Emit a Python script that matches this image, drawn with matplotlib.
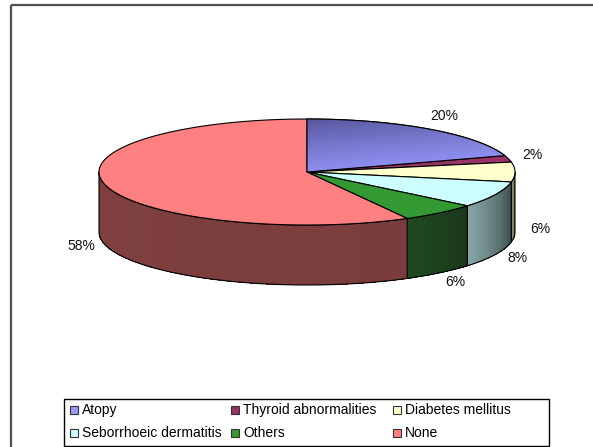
import numpy as np
import matplotlib.pyplot as plt
from matplotlib.patches import Polygon, Rectangle
from matplotlib.colors import to_rgb

# data (percent of patients)
labels = ['Atopy', 'Thyroid abnormalities', 'Diabetes mellitus',
          'Seborrhoeic dermatitis', 'Others', 'None']
shares = [20, 2, 6, 8, 6, 58]
pct_text = ['20%', '2%', '6%', '8%', '6%', '58%']

top_colors = ['#9999FF', '#993366', '#FFFFCC', '#CCFFFF', '#339933', '#FF8080']
side_light = ['#5c5c99', '#5c1f3d', '#9a9a7a', '#8aa8a8', '#1f4a1f', '#804040']
side_dark = ['#5c5c99', '#5c1f3d', '#5a5a44', '#3a4e4e', '#1a381a', '#7a3c3c']

plt.rcParams['font.family'] = ['Liberation Sans', 'DejaVu Sans']

fig = plt.figure(figsize=(5.93, 4.47), dpi=100)
ax = fig.add_axes([0, 0, 1, 1])
ax.set_xlim(0, 593)
ax.set_ylim(447, 0)
ax.axis('off')

# chart area border
ax.add_patch(Rectangle((11, 5), 620, 480, fill=False, edgecolor='#505050', lw=1.6))

cx, cy, rx, ry, depth = 307, 172, 208, 53, 60


def rim(t):
    t = np.radians(t)
    return cx + rx * np.cos(t), cy - ry * np.sin(t)


def wall(lo, hi, n=100):
    ts = np.linspace(lo, hi, n)
    xs, ys = rim(ts)
    return np.column_stack([np.r_[xs, xs[::-1]], np.r_[ys, ys[::-1] + depth]])


bounds = 90 - np.concatenate([[0], np.cumsum(shares)]) * 3.6

# side walls (front half only)
for i in range(len(shares)):
    t0, t1 = bounds[i], bounds[i + 1]
    hi, lo = min(t0, 0), max(t1, -180)
    if hi <= lo:
        continue
    c0, c1 = np.array(to_rgb(side_light[i])), np.array(to_rgb(side_dark[i]))
    ax.add_patch(Polygon(wall(lo, hi), closed=True, facecolor=(c0 + c1) / 2, lw=0))
    if not np.allclose(c0, c1):
        n = max(2, int((hi - lo) / 1.0))
        edges = np.linspace(lo, hi, n + 1)
        for j in range(n):
            col = c0 + (c1 - c0) * (j + 0.5) / n
            ax.add_patch(Polygon(wall(edges[j], edges[j + 1], 4), closed=True,
                                 facecolor=col, lw=0, antialiased=False))
    ax.add_patch(Polygon(wall(lo, hi), closed=True, fill=False, edgecolor='black', lw=0.8))

# top faces
for i in range(len(shares)):
    ts = np.linspace(bounds[i], bounds[i + 1], 200)
    xs, ys = rim(ts)
    pts = np.column_stack([np.r_[cx, xs], np.r_[cy, ys]])
    poly = Polygon(pts, closed=True, facecolor=top_colors[i], edgecolor='black', lw=0.8)
    ax.add_patch(poly)
    if i == 0:
        # darker shading towards the back of the first slice
        gy, gx = np.mgrid[0:1:60j, 0:1:60j]
        g = np.clip(1 - 0.75 * gy - 0.25 * gx, 0, 1)
        dark = np.array(to_rgb('#55559a'))
        base = np.array(to_rgb(top_colors[0]))
        img = base + (dark - base) * g[..., None] ** 1.3
        im = ax.imshow(img, extent=(cx, cx + rx, cy, cy - ry - 2), zorder=1.5,
                       interpolation='bilinear', aspect='auto')
        im.set_clip_path(poly)
        ax.add_patch(Polygon(pts, closed=True, fill=False, edgecolor='black', lw=0.8, zorder=1.6))

# percentage labels
for i in range(len(shares)):
    mid = np.radians((bounds[i] + bounds[i + 1]) / 2)
    x = cx + rx * 1.12 * np.cos(mid)
    y = cy - ry * 1.3 * np.sin(mid)
    if np.sin(mid) <= 1e-6:
        y += depth - 3
    ax.text(x, y, pct_text[i], ha='center', va='center', fontsize=10, color='#111111')

# legend
ax.add_patch(Rectangle((64, 399), 485, 47, facecolor='white', edgecolor='black', lw=1.0))
col_x = [70, 231, 393]
row_y = [410, 433]
for i, lab in enumerate(labels):
    x, y = col_x[i % 3], row_y[i // 3]
    ax.add_patch(Rectangle((x, y - 4), 8, 8, facecolor=top_colors[i], edgecolor='#333333', lw=0.8))
    ax.text(x + 12, y, lab, ha='left', va='center', fontsize=10, color='black')

fig.savefig('out.png', dpi=100)
